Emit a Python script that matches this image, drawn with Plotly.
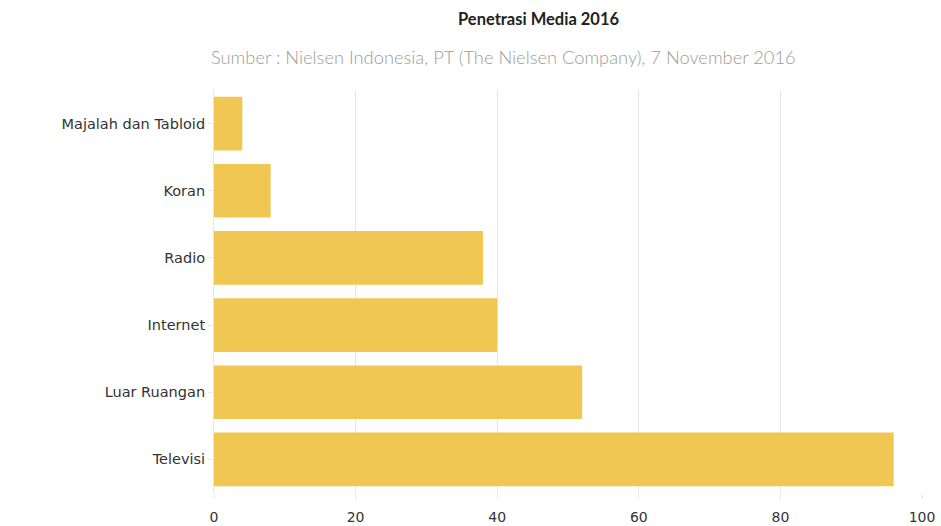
import plotly.graph_objects as go

categories = ["Majalah dan Tabloid", "Koran", "Radio", "Internet", "Luar Ruangan", "Televisi"]
values = [4, 8, 38, 40, 52, 96]
x_ticks = [0, 20, 40, 60, 80, 100]

title_text = "Penetrasi Media 2016"
subtitle_text = "Sumber : Nielsen Indonesia, PT (The Nielsen Company), 7 November 2016"

fig = go.Figure(go.Bar(
    x=values, y=categories, orientation="h",
    marker=dict(color="#F0C752", line=dict(width=0)),
    hoverinfo="x+y",
))

L, R, T, B = 214, 19, 90, 33
W, H = 941, 526

fig.update_layout(
    width=W, height=H,
    margin=dict(l=L, r=R, t=T, b=B, autoexpand=False),
    paper_bgcolor="white", plot_bgcolor="white",
    bargap=0.2,
    showlegend=False,
    font=dict(family="DejaVu Sans", size=12, color="#333333"),
    annotations=[
        dict(text=title_text, x=538, y=19, showarrow=False,
             font=dict(family="Lato", size=16.5, color="#222222", weight="bold")),
        dict(text=subtitle_text, x=503, y=57, showarrow=False,
             font=dict(family="Lato", size=18.3, color="#9c9c9c", weight=300)),
    ],
)
pw = W - L - R
ph = H - T - B
for a in fig.layout.annotations:
    a.xref = "paper"
    a.yref = "paper"
    a.x = (a.x - L) / pw
    a.y = (H - B - a.y) / ph
    a.xanchor = "center"
    a.yanchor = "middle"

fig.update_xaxes(
    range=[0, 100], tickvals=x_ticks,
    showgrid=True, gridcolor="#e6e6e6", gridwidth=1,
    zeroline=False, showline=False,
    ticks="outside", ticklen=5, tickcolor="#e6e6e6",
    ticklabelstandoff=6, automargin=False,
    tickfont=dict(family="DejaVu Sans", size=14, color="#333333"),
    fixedrange=True,
)
fig.update_yaxes(
    autorange="reversed",
    showgrid=False, zeroline=False, automargin=False,
    showline=True, linecolor="#e6e6e6", linewidth=1,
    ticks="outside", ticklen=5, tickcolor="#e6e6e6",
    tickfont=dict(family="DejaVu Sans", size=14.5, color="#333333"),
    fixedrange=True,
)

fig.write_html("out.html", config={"displayModeBar": False})
